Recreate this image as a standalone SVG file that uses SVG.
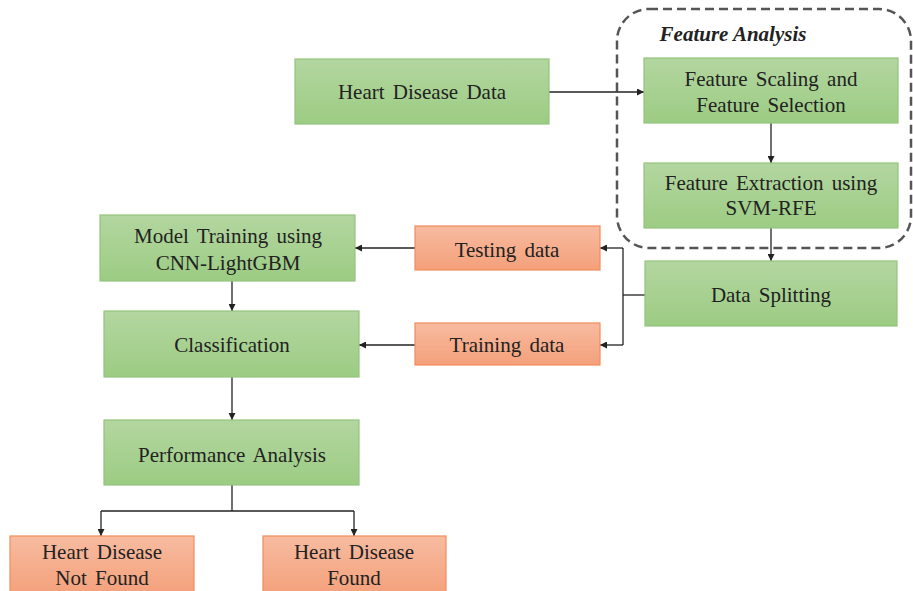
<svg xmlns="http://www.w3.org/2000/svg" width="913" height="591" viewBox="0 0 913 591">
<style>
.g{fill:url(#gg);stroke:#93c47d;stroke-width:1.2}
.o{fill:url(#og);stroke:#f08c5c;stroke-width:1.2}
text{font-family:"Liberation Serif","Times New Roman",serif;font-size:21px;word-spacing:3px;fill:#222;text-anchor:middle}
.c{fill:none;stroke:#222;stroke-width:1.3}
</style>
<defs>
<linearGradient id="gg" x1="0" y1="0" x2="0" y2="1"><stop offset="0" stop-color="#b3d6a0"/><stop offset="1" stop-color="#9ccc83"/></linearGradient>
<linearGradient id="og" x1="0" y1="0" x2="0" y2="1"><stop offset="0" stop-color="#f7bba0"/><stop offset="1" stop-color="#f4a07a"/></linearGradient>
<marker id="a" viewBox="0 0 10 10" refX="10" refY="5" markerWidth="7" markerHeight="7" markerUnits="userSpaceOnUse" orient="auto"><path d="M0,0L10,5L0,10z" fill="#222"/></marker>
</defs>
<g id="feature-analysis">
<rect x="617" y="9" width="294" height="239" rx="32" fill="none" stroke="#555" stroke-width="2.5" stroke-dasharray="9 5"/>
<text x="733" y="41" style="font-style:italic;font-weight:bold;word-spacing:0">Feature Analysis</text>
</g>
<g id="connectors">
<path class="c" d="M549,92H644" marker-end="url(#a)"/>
<path class="c" d="M771,123V163" marker-end="url(#a)"/>
<path class="c" d="M771,228V261" marker-end="url(#a)"/>
<path class="c" d="M645,295H623"/>
<path class="c" d="M623,248V345"/>
<path class="c" d="M623,248H600" marker-end="url(#a)"/>
<path class="c" d="M623,345H600" marker-end="url(#a)"/>
<path class="c" d="M415,248H355" marker-end="url(#a)"/>
<path class="c" d="M415,345H359" marker-end="url(#a)"/>
<path class="c" d="M232,281V311" marker-end="url(#a)"/>
<path class="c" d="M232,377V420" marker-end="url(#a)"/>
<path class="c" d="M232,485V511"/>
<path class="c" d="M101,511H354"/>
<path class="c" d="M101,511V536" marker-end="url(#a)"/>
<path class="c" d="M354,511V536" marker-end="url(#a)"/>
</g>
<g id="heart-disease-data"><rect class="g" x="295" y="59" width="254" height="65"/><text x="422" y="99">Heart Disease Data</text></g>
<g id="feature-scaling"><rect class="g" x="644" y="58" width="254" height="65"/><text x="771" y="86">Feature Scaling and</text><text x="771" y="112">Feature Selection</text></g>
<g id="feature-extraction"><rect class="g" x="644" y="163" width="254" height="65"/><text x="771" y="190">Feature Extraction using</text><text x="771" y="215">SVM-RFE</text></g>
<g id="data-splitting"><rect class="g" x="645" y="261" width="252" height="65"/><text x="771" y="302">Data Splitting</text></g>
<g id="testing-data"><rect class="o" x="415" y="226" width="185" height="44"/><text x="507" y="257">Testing data</text></g>
<g id="training-data"><rect class="o" x="415" y="323" width="185" height="42"/><text x="507" y="352">Training data</text></g>
<g id="model-training"><rect class="g" x="100" y="215" width="255" height="66"/><text x="228" y="243">Model Training using</text><text x="228" y="270">CNN-LightGBM</text></g>
<g id="classification"><rect class="g" x="104" y="311" width="255" height="66"/><text x="232" y="352">Classification</text></g>
<g id="performance-analysis"><rect class="g" x="104" y="420" width="255" height="65"/><text x="232" y="462">Performance Analysis</text></g>
<g id="not-found"><rect class="o" x="10" y="536" width="184" height="60"/><text x="102" y="559">Heart Disease</text><text x="102" y="585">Not Found</text></g>
<g id="found"><rect class="o" x="263" y="536" width="183" height="60"/><text x="354" y="559">Heart Disease</text><text x="354" y="585">Found</text></g>
</svg>
